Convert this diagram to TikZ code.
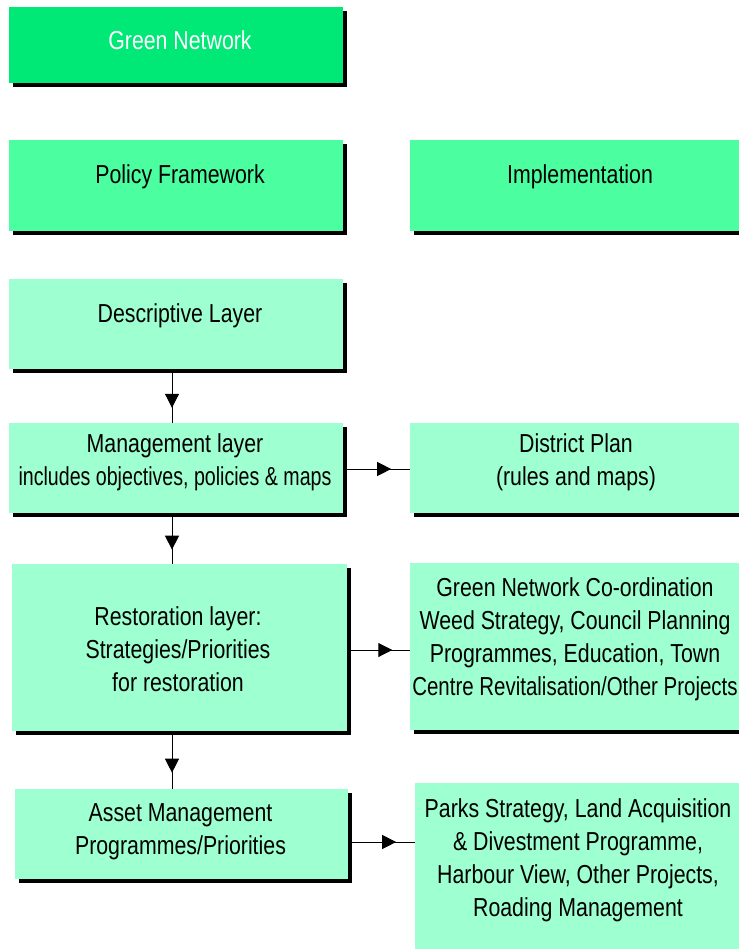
\documentclass[tikz,border=0pt]{standalone}
\usepackage{fontspec}
\setmainfont{Liberation Sans}[FakeStretch=0.82]
\usepackage{tikz}
\usetikzlibrary{shadows,arrows.meta,decorations.markings}

\definecolor{topgreen}{RGB}{0,232,118}
\definecolor{midgreen}{RGB}{75,255,160}
\definecolor{palegreen}{RGB}{158,255,208}

\begin{document}
\begin{tikzpicture}[x=1pt,y=-1pt]
        \tikzstyle{every node} = [rectangle, inner sep=0pt]
        \tikzstyle{box} = [minimum width=334pt, minimum height=90pt,
            drop shadow={shadow xshift=4pt, shadow yshift=-4pt, fill=black, opacity=1}]
        \tikzstyle{txt} = [align=center, font=\fontsize{26}{33}\selectfont]
        \tikzstyle{flow} = [line width=1pt, postaction={decorate},
            decoration={markings, mark=at position 0.72 with {\arrow{Triangle[length=14pt,width=14pt]}}}]

        \useasboundingbox (0,0) rectangle (738,949);
        \fill[white] (0,0) rectangle (738,949);

        \node[box, fill=topgreen, minimum height=76pt] (gn) at (176,45) {};
        \node[box, fill=midgreen, minimum height=91pt] (policy) at (176,185.5) {};
        \node[box, fill=midgreen, minimum height=91pt] (impl) at (577,185.5) {};
        \node[box, fill=palegreen] (desc) at (176,324) {};
        \node[box, fill=palegreen] (mgmt) at (176,468) {};
        \node[box, fill=palegreen] (district) at (577,468) {};
        \node[box, fill=palegreen, minimum width=335pt, minimum height=167pt] (resto) at (179.5,647.5) {};
        \node[box, fill=palegreen, minimum height=167pt] (coord) at (577,646.5) {};
        \node[box, fill=palegreen, minimum width=333pt] (asset) at (181.5,834) {};
        \node[box, fill=palegreen, minimum width=333pt, minimum height=169pt] (parks) at (581.5,867.5) {};

        \node[txt, text=white] (gn-t) at (180,40.5) {Green Network};
        \node[txt] (policy-t) at (180,176.5) {Policy Framework};
        \node[txt] (impl-t) at (580,176.5) {Implementation};
        \node[txt] (desc-t) at (180,315.5) {Descriptive Layer};
        \node[txt] (mgmt-t) at (175,462) {Management layer\\\scalebox{0.92}[1]{includes objectives, policies \& maps}};
        \node[txt] (district-t) at (576,462) {District Plan\\(rules and maps)};
        \node[txt] (resto-t) at (178,649) {Restoration layer:\\Strategies/Priorities\\for restoration};
        \node[txt] (coord-t) at (575,639) {Green Network Co-ordination\\Weed Strategy, Council Planning\\Programmes, Education, Town\\\scalebox{0.96}[1]{Centre Revitalisation/Other Projects}};
        \node[txt] (asset-t) at (180.5,831.5) {Asset Management\\Programmes/Priorities};
        \node[txt] (parks-t) at (578,860.5) {Parks Strategy, Land Acquisition\\\& Divestment Programme,\\Harbour View, Other Projects,\\Roading Management};

        \coordinate (axis) at (172,0);
        \foreach \from/\to in {desc/mgmt, mgmt/resto, resto/asset}
            \draw[flow] (\from.south -| axis) -- (\to.north -| axis);
        \foreach \from/\to/\dy in {mgmt/district/-1, resto/coord/-2.5, asset/parks/-8}
            \draw[flow] ([yshift=\dy pt]\from.east) -- ([yshift=\dy pt]\from.east -| \to.west);
      \end{tikzpicture}
\end{document}
